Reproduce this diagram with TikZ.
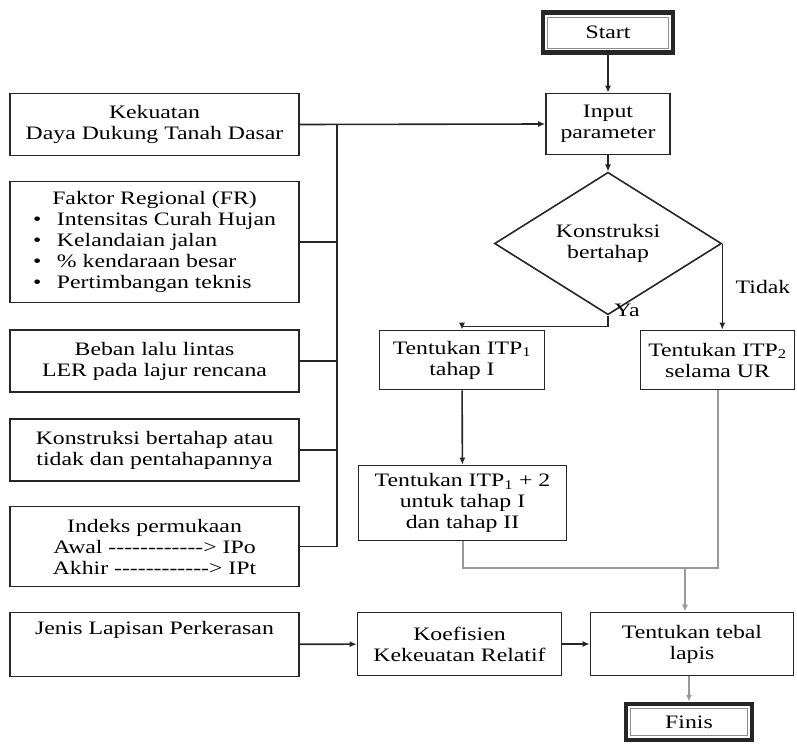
\documentclass[tikz,border=0pt]{standalone}
\usepackage{fontspec}
\setmainfont{Liberation Serif}[FakeStretch=1.25,Ligatures=TeXOff]
\usetikzlibrary{shapes.geometric,arrows.meta}

\tikzset{
  box/.style={draw=black!85, line width=1.7pt, align=center, inner sep=2pt},
  inbox/.style={box, minimum width=289pt, minimum height=62pt},
  term/.style={box, line width=4.5pt, minimum width=130pt, minimum height=40pt,
    path picture={\draw[black!45, line width=1pt]
      ([shift={(4.5pt,-4.5pt)}]path picture bounding box.north west) rectangle
      ([shift={(-4.5pt,4.5pt)}]path picture bounding box.south east);}},
  decision/.style={diamond, draw=black!85, line width=1.6pt, align=center,
    inner sep=0pt, minimum width=227pt, minimum height=123pt},
  grayline/.style={draw=black!40, line width=2pt},
  >={Latex[length=7pt,width=6pt]}
}
\newcommand{\bul}{\makebox[24pt][l]{\textbullet}}

\begin{document}
\begin{tikzpicture}[x=1pt,y=-1pt,font=\fontsize{19}{21}\selectfont]
  \useasboundingbox (0,0) rectangle (797,744);
  % main column
  \node[term] (start) at (608,32.5) {Start};
  \node[box, minimum width=124pt, minimum height=61pt] (input) at (608,124) {Input\\parameter};
  \node[decision] (kons) at (608,243.5) {Konstruksi\\bertahap};
  \node (ya) at (627,310) {Ya};
  \node (tidak) at (763,287) {Tidak};
  \node[box, minimum width=165pt, minimum height=59pt] (itp1) at (462,360) {Tentukan ITP\textsubscript{1}\\tahap I};
  \node[box, minimum width=154pt, minimum height=59pt] (itp2) at (717.5,360) {Tentukan ITP\textsubscript{2}\\selama UR};
  \node[box, minimum width=208pt, minimum height=75pt] (itp12) at (462.5,503) {Tentukan ITP\textsubscript{1} + 2\\untuk tahap I\\dan tahap II};
  % input boxes
  \node[inbox] (soil) at (154.5,124.5) {Kekuatan\\Daya Dukung Tanah Dasar};
  \node[inbox, minimum height=121pt, inner sep=0pt] (fr) at (154.5,242)
    {\begin{tabular}{@{}l@{}}
       \multicolumn{1}{@{}c@{}}{Faktor Regional (FR)}\\
       \bul Intensitas Curah Hujan\\
       \bul Kelandaian jalan\\
       \bul \% kendaraan besar\\
       \bul Pertimbangan teknis
     \end{tabular}};
  \node[inbox] (load) at (154.5,361) {Beban lalu lintas\\LER pada lajur rencana};
  \node[inbox] (stage) at (154.5,450) {Konstruksi bertahap atau\\tidak dan pentahapannya};
  \node[inbox, minimum height=80pt] (ip) at (154.5,546.5) {Indeks permukaan\\Awal ------------> IPo\\Akhir ------------> IPt};
  % bottom row
  \node[inbox, minimum height=64pt, text height=13pt, text depth=34pt] (layer) at (154.5,644.5) {Jenis Lapisan Perkerasan};
  \node[box, minimum width=204pt, minimum height=63pt] (coef) at (459.5,644) {Koefisien\\Kekeuatan Relatif};
  \node[box, minimum width=203pt, minimum height=63pt] (thick) at (692,644) {Tentukan tebal\\lapis};
  \node[term, minimum width=126pt, minimum height=36pt] (finis) at (689,722) {Finis};
  \coordinate (bus) at (337,126);
  \coordinate (merge) at (685,568);
  \begin{scope}[->, line width=1.6pt, black!85]
    \draw (start) -- (input);
    \draw (input) -- (kons);
    \draw (soil.east) -- (input.west);
    \draw (kons.south) -- ++(0,11) -| (itp1.north);
    \draw (kons.east) -- (kons.east |- itp2.north);
    \draw (itp1) -- (itp12);
    \draw (layer) -- (coef);
    \draw (coef) -- (thick);
  \end{scope}
  \begin{scope}[-, line width=1.6pt, black!85]
    \draw (soil.east -| bus) -- (ip.east -| bus);
    \draw (fr.east) -- (fr.east -| bus);
    \draw (load.east) -- (load.east -| bus);
    \draw (stage.east) -- (stage.east -| bus);
    \draw (ip.east) -- (ip.east -| bus);
  \end{scope}
  \begin{scope}[grayline]
    \draw (itp12.south) |- (merge) -| (itp2.south);
    \draw[->] (merge) -- (merge |- thick.north);
    \draw[->] (finis.north |- thick.south) -- (finis.north);
  \end{scope}
\end{tikzpicture}
\end{document}
